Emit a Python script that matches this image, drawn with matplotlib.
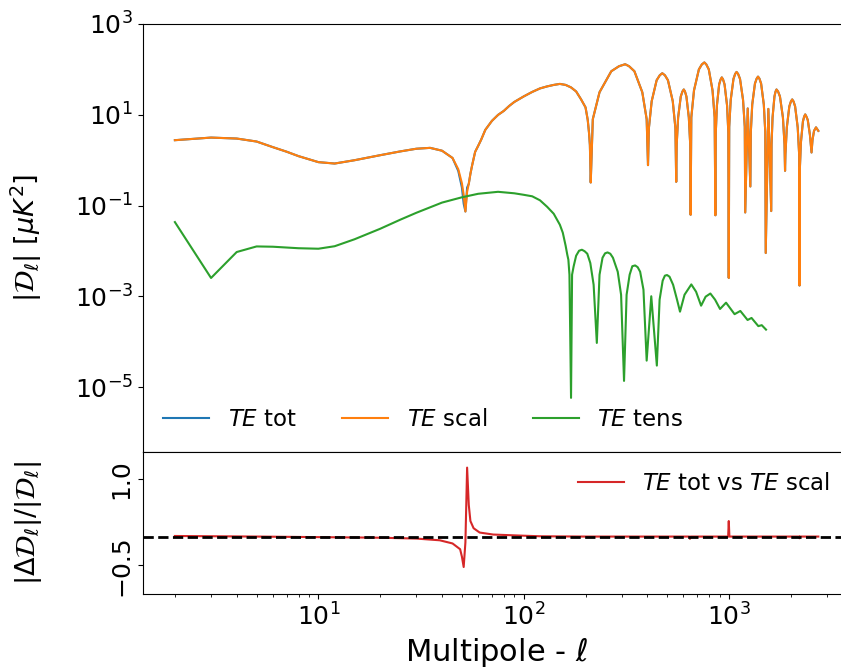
import matplotlib
matplotlib.use('Agg')
import matplotlib.pyplot as plt
from matplotlib.ticker import NullLocator

# multipoles and |D_l| of the scalar TE spectrum
ell = [2, 3, 4, 5, 6, 7, 8, 10, 12, 15, 20, 25, 30, 35, 40, 45, 48, 50, 51, 52,
       53, 54, 55, 56, 58, 60, 62, 65, 70, 75, 80, 85, 90, 100, 110, 120, 130, 140,
       150, 160, 170, 180, 190, 200, 205, 208, 210, 212,
       217, 234, 267, 291, 312, 326, 346, 378, 397, 403,
       407, 420, 444, 460, 473, 487, 504, 532, 548, 553,
       556, 565, 582, 593, 602, 610, 620, 637, 647, 650,
       655, 675, 713, 737, 758, 775, 797, 831, 851, 858,
       862, 873, 895, 910, 922, 935, 951, 978, 992, 997,
       1002, 1019, 1051, 1071, 1088, 1107, 1131, 1170, 1193, 1199,
       1233, 1270,
       1277, 1297, 1337, 1363, 1384, 1406, 1433, 1477, 1501, 1509,
       1554, 1605,
       1611, 1629, 1664, 1685, 1703, 1733, 1770, 1830, 1863, 1874,
       1882, 1912, 1966, 2002, 2031, 2061, 2098, 2160, 2195, 2204,
       2212, 2239, 2290, 2323, 2350, 2380, 2417, 2477, 2511, 2522,
       2550, 2594, 2652, 2722]
te_scal = [2.76, 3.15, 3.00, 2.58, 1.94, 1.54, 1.23, 0.907, 0.845, 1.00, 1.29, 1.56,
           1.79, 1.87, 1.62, 1.12, 0.633, 0.31, 0.173, 0.0743,
           0.2015, 0.302, 0.502, 0.752, 1.53, 2.07, 2.81, 4.66, 7.35, 9.96, 12.2, 15.7,
           19.2, 25.4, 31.9, 38.1, 42.2, 45.5,
           47.9, 45.5, 40.1, 32.7, 22.1, 14.6, 7.73, 4.00, 2.18, 0.323,
           8.01, 31.4, 91.1, 117.3, 129.9, 117.3, 91.1, 31.4, 8.01, 0.779,
           5.08, 19.9, 57.7, 74.4, 82.3, 74.4, 57.7, 19.9, 5.08, 0.334,
           2.22, 8.73, 25.3, 32.6, 36.1, 32.6, 25.3, 8.73, 2.22, 0.0629,
           8.77, 34.4, 99.8, 128.6, 142.3, 128.6, 99.8, 34.4, 8.77, 0.0613,
           4.10, 16.1, 46.7, 60.1, 66.6, 60.1, 46.7, 16.1, 4.10, 0.00255,
           5.42, 21.3, 61.7, 79.4, 87.9, 79.4, 61.7, 21.3, 5.42, 0.0707,
           13.8, 0.264,
           4.27, 16.8, 48.6, 62.6, 69.3, 62.6, 48.6, 16.8, 4.27, 0.00904,
           13.5, 0.0759,
           2.22, 8.73, 25.3, 32.6, 36.1, 32.6, 25.3, 8.73, 2.22, 0.584,
           1.35, 5.29, 15.3, 19.7, 21.8, 19.7, 15.3, 5.29, 1.35, 0.00174,
           0.627, 2.46, 7.13, 9.18, 10.2, 9.18, 7.73, 3.62, 1.87, 1.48,
           2.81, 4.43, 5.29, 4.43]

# total spectrum only differs from the scalar one around the first zero crossing
tot_fix_ell = [48, 50, 51, 52, 53]
tot_fix_val = [0.58, 0.25, 0.11, 0.0743, 0.25]

# tensor TE spectrum
tens_ell = [2, 3, 4, 5, 6, 8, 10, 12, 15, 20, 25, 30, 40, 50, 60, 75, 90, 100, 110,
            120, 130, 140, 150, 155, 160, 163, 165, 167, 170, 172, 175, 180, 186, 192,
            198, 204, 211, 219, 227, 234, 242, 249, 256, 264, 272, 287, 298, 308,
            317, 328, 338, 349, 359, 369, 383, 397, 418, 445, 459, 475, 487, 499,
            513, 534, 558, 577, 607, 655, 691, 731, 769, 811, 855, 904, 967, 1064,
            1135, 1231, 1287, 1389, 1443, 1514]
te_tens = [0.0434, 0.00255, 0.00951, 0.01263, 0.01244, 0.01153, 0.01124, 0.01276,
           0.01817, 0.03094, 0.04882, 0.0696, 0.1166, 0.1526, 0.1822, 0.2015, 0.1868,
           0.1731, 0.1604, 0.1310, 0.0943, 0.0662, 0.0379, 0.0253, 0.01308, 0.00829,
           0.00644, 0.00301, 5.84e-6, 0.00301, 0.00458, 0.00788, 0.01015, 0.01068,
           0.0099, 0.00872, 0.00545, 0.00181, 9.47e-5, 0.00301, 0.00712, 0.0089,
           0.00932, 0.00872, 0.00712, 0.0035, 0.00109, 1.38e-5,
           0.00109, 0.00301, 0.00463, 0.00482, 0.0044, 0.0035, 0.00141, 3.86e-5,
           0.00101, 3.0e-5, 0.000849, 0.00222, 0.00287, 0.00296,
           0.00272, 0.00181, 0.000849, 0.000462, 0.00109, 0.00184, 0.00127,
           0.000626, 0.000988, 0.00116, 0.000849, 0.00053, 0.000729, 0.000407,
           0.000479, 0.000303, 0.000336, 0.000222, 0.000233, 0.000186]

# relative difference tot vs scal
diff_ell = [2, 5, 10, 20, 30, 39, 45, 49, 50, 51, 52, 53, 54, 55, 57, 61, 71, 96,
            120, 200, 640, 645, 650, 990, 997, 1004, 2198, 2204, 2210, 2722]
diff_val = [0.01, 0.0, -0.01, -0.02, -0.035, -0.065, -0.12, -0.22, -0.35, -0.53,
            -0.1, 1.20, 0.55, 0.27, 0.145, 0.07, 0.035, 0.017,
            0.005, 0.0, 0.0, -0.04, 0.0, 0.0, 0.27, 0.0, 0.0, -0.03, 0.0, 0.0]

te_tot = list(te_scal)
for l, v in zip(tot_fix_ell, tot_fix_val):
    te_tot[ell.index(l)] = v

fig, (ax1, ax2) = plt.subplots(2, 1, sharex=True, figsize=(8.41, 6.70), dpi=100,
                               gridspec_kw={'height_ratios': [3, 1]})
fig.subplots_adjust(left=0.1697, right=1.0113, top=0.9642, bottom=0.1134, hspace=0)

ax1.plot(ell, te_tot, label=r'$TE$ tot')
ax1.plot(ell, te_scal, label=r'$TE$ scal')
ax1.plot(tens_ell, te_tens, label=r'$TE$ tens')
ax1.set_xscale('log')
ax1.set_yscale('log')
ax1.set_ylim(10 ** -6.415, 1e3)
ax1.set_yticks([1e-5, 1e-3, 1e-1, 1e1, 1e3])
ax1.yaxis.set_minor_locator(NullLocator())
ax1.set_ylabel(r'$|\mathcal{D}_\ell|$ [$\mu K^2$]', fontsize=19.5)
ax1.tick_params(labelsize=18)
ax1.legend(loc='lower left', ncol=3, frameon=False, fontsize=16.5)

ax2.plot(diff_ell, diff_val, color='C3', label=r'$TE$ tot vs $TE$ scal')
ax2.axhline(0, color='k', ls='--', lw=2)
ax2.set_ylim(-1.0, 1.48)
ax2.set_yticks([-0.5, 1.0])
ax2.tick_params(labelsize=18)
ax2.tick_params(axis='y', labelrotation=90)
for lab in ax2.get_yticklabels():
    lab.set_verticalalignment('center')
ax2.set_xlabel(r'Multipole - $\ell$', fontsize=22)
ax2.set_ylabel(r'$|\Delta\mathcal{D}_\ell|/|\mathcal{D}_\ell|$', fontsize=19.5)
ax2.legend(loc='upper right', frameon=False, fontsize=16.5)

ax1.yaxis.set_label_coords(-0.14, 0.5)
ax2.yaxis.set_label_coords(-0.14, 0.5)
fig.savefig('out.png', dpi=100)
